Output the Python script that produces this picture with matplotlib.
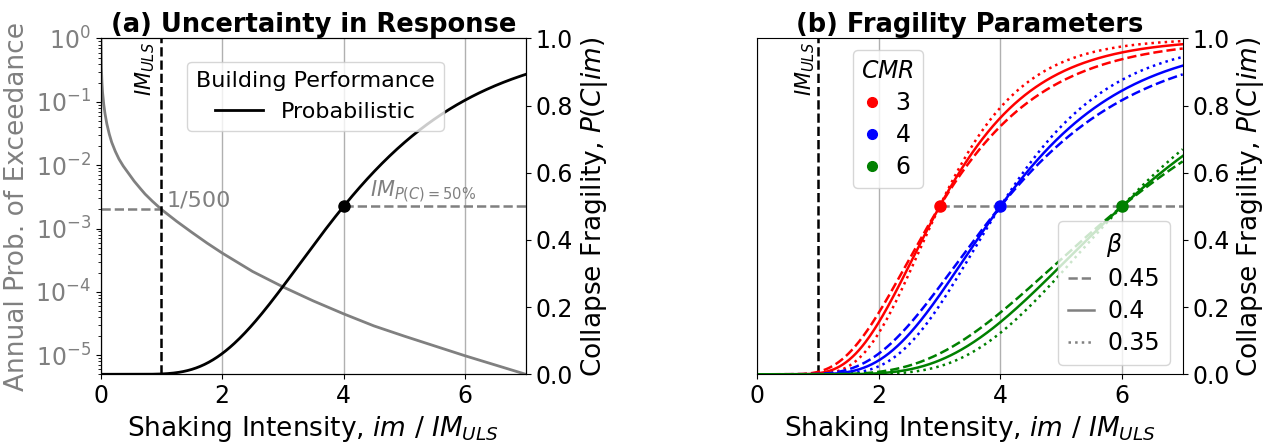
import math
import numpy as np
import matplotlib
matplotlib.use("Agg")
import matplotlib.pyplot as plt
from matplotlib.lines import Line2D

# hazard curve (im / IM_ULS, annual prob. of exceedance)
hazard_im = [0.003, 0.01, 0.02, 0.03, 0.05, 0.07, 0.1, 0.14, 0.18, 0.24, 0.3, 0.37,
             0.45, 0.55, 0.65, 0.73, 0.85, 1.0, 1.25, 1.5, 1.75, 2.0, 2.5, 3.0, 3.5,
             4.0, 4.5, 5.0, 5.5, 6.0, 6.5, 7.0]
hazard_p = [1.0, 0.35, 0.2, 0.14, 0.09, 0.065, 0.045, 0.031, 0.023, 0.0165, 0.0125,
            0.0097, 0.0076, 0.0056, 0.0043, 0.0035, 0.0027, 0.002, 0.0013, 0.00087,
            0.00059, 0.00041, 0.00021, 0.00012, 7.2e-5, 4.5e-5, 2.9e-5, 2.0e-5,
            1.4e-5, 9.8e-6, 7.0e-6, 5.0e-6]

# fragility parameters
median_a = 4.0
beta_a = 0.45
cmr_values = [3, 4, 6]
cmr_colors = ["red", "blue", "green"]
betas = [0.45, 0.4, 0.35]
beta_styles = ["--", "-", ":"]

im = np.linspace(0.01, 7, 400)


def lognorm_cdf(x, med, beta):
    return np.array([0.5 * (1 + math.erf(math.log(v / med) / (beta * math.sqrt(2)))) for v in x])


plt.rcParams["font.family"] = "DejaVu Sans"
fig = plt.figure(figsize=(12.69, 4.46), dpi=100)

# ---------------- (a) ----------------
ax1 = fig.add_axes([0.0794, 0.1608, 0.3349, 0.7529])
ax1.semilogy(hazard_im, hazard_p, color="gray", lw=2)
ax1.set_xlim(0, 7)
ax1.set_ylim(5e-6, 1)
ax1.plot([0, 1], [1 / 500, 1 / 500], color="gray", ls="--", lw=1.8)
ax1.text(1.08, 2.2e-3, "1/500", color="gray", fontsize=16, va="baseline")
ax1.axvline(1, color="black", ls="--", lw=1.8)
ax1.text(0.73, 0.99, "$IM_{ULS}$", rotation=90, fontsize=15, va="top", ha="center",
         transform=ax1.get_xaxis_transform())
ax1.set_ylabel("Annual Prob. of Exceedance", color="gray", fontsize=19)
ax1.tick_params(axis="y", colors="gray", labelsize=17)
ax1.tick_params(axis="x", labelsize=17)
ax1.tick_params(axis="y", which="both", color="black")
ax1.set_xlabel("Shaking Intensity, $im$ / $IM_{ULS}$", fontsize=19)
ax1.set_xticks([0, 2, 4, 6])
ax1.grid(axis="x", color="#b0b0b0", lw=1)
ax1.set_title("(a) Uncertainty in Response", fontsize=18.5, fontweight="bold", pad=4)

ax2 = ax1.twinx()
ax2.plot(im, lognorm_cdf(im, median_a, beta_a), color="black", lw=2, label="Probabilistic")
ax2.plot([median_a, 7], [0.5, 0.5], color="gray", ls="--", lw=1.8)
ax2.plot(median_a, 0.5, "o", color="black", ms=8)
ax2.text(4.44, 0.528, "$IM_{P(C)=50\\%}$", color="gray", fontsize=15, va="baseline")
ax2.set_ylim(0, 1)
ax2.set_ylabel("Collapse Fragility, $P(C|im)$", fontsize=19)
ax2.tick_params(axis="y", labelsize=17)
ax2.legend(title="Building Performance", loc="upper center", bbox_to_anchor=(0.505, 0.93),
           borderaxespad=0, fontsize=16, title_fontsize=16, handlelength=2.2)

# ---------------- (b) ----------------
ax3 = fig.add_axes([0.5968, 0.1608, 0.3352, 0.7529])
ax3.set_xlim(0, 7)
ax3.set_ylim(0, 1)
ax3.grid(axis="x", color="#b0b0b0", lw=1)
ax3.axvline(1, color="black", ls="--", lw=1.8)
ax3.text(0.78, 0.99, "$IM_{ULS}$", rotation=90, fontsize=15, va="top", ha="center",
         transform=ax3.get_xaxis_transform())
ax3.plot([cmr_values[0], 7], [0.5, 0.5], color="gray", ls="--", lw=1.8)
for med, col in zip(cmr_values, cmr_colors):
    for b, st in zip(betas, beta_styles):
        ax3.plot(im, lognorm_cdf(im, med, b), color=col, ls=st, lw=1.8)
    ax3.plot(med, 0.5, "o", color=col, ms=8)
ax3.set_xticks([0, 2, 4, 6])
ax3.yaxis.tick_right()
ax3.yaxis.set_label_position("right")
ax3.set_ylabel("Collapse Fragility, $P(C|im)$", fontsize=19)
ax3.set_xlabel("Shaking Intensity, $im$ / $IM_{ULS}$", fontsize=19)
ax3.tick_params(labelsize=17)
ax3.set_title("(b) Fragility Parameters", fontsize=18.5, fontweight="bold", pad=4)

cmr_handles = [Line2D([], [], ls="", marker="o", color=c, ms=7) for c in cmr_colors]
leg1 = ax3.legend(cmr_handles, [str(c) for c in cmr_values], title="$CMR$", loc="upper left",
                  bbox_to_anchor=(0.225, 0.965), borderaxespad=0, fontsize=17,
                  title_fontsize=17, handlelength=0.6, labelspacing=0.35,
                  handletextpad=0.7, borderpad=0.35)
ax3.add_artist(leg1)
beta_handles = [Line2D([], [], ls=s, color="gray", lw=1.8) for s in beta_styles]
ax3.legend(beta_handles, [str(b) for b in betas], title="$\\beta$", loc="lower right",
           bbox_to_anchor=(0.97, 0.028), borderaxespad=0, fontsize=17,
           title_fontsize=17, handlelength=1.1, labelspacing=0.35, handletextpad=0.6)

fig.savefig("out.png", dpi=100)
